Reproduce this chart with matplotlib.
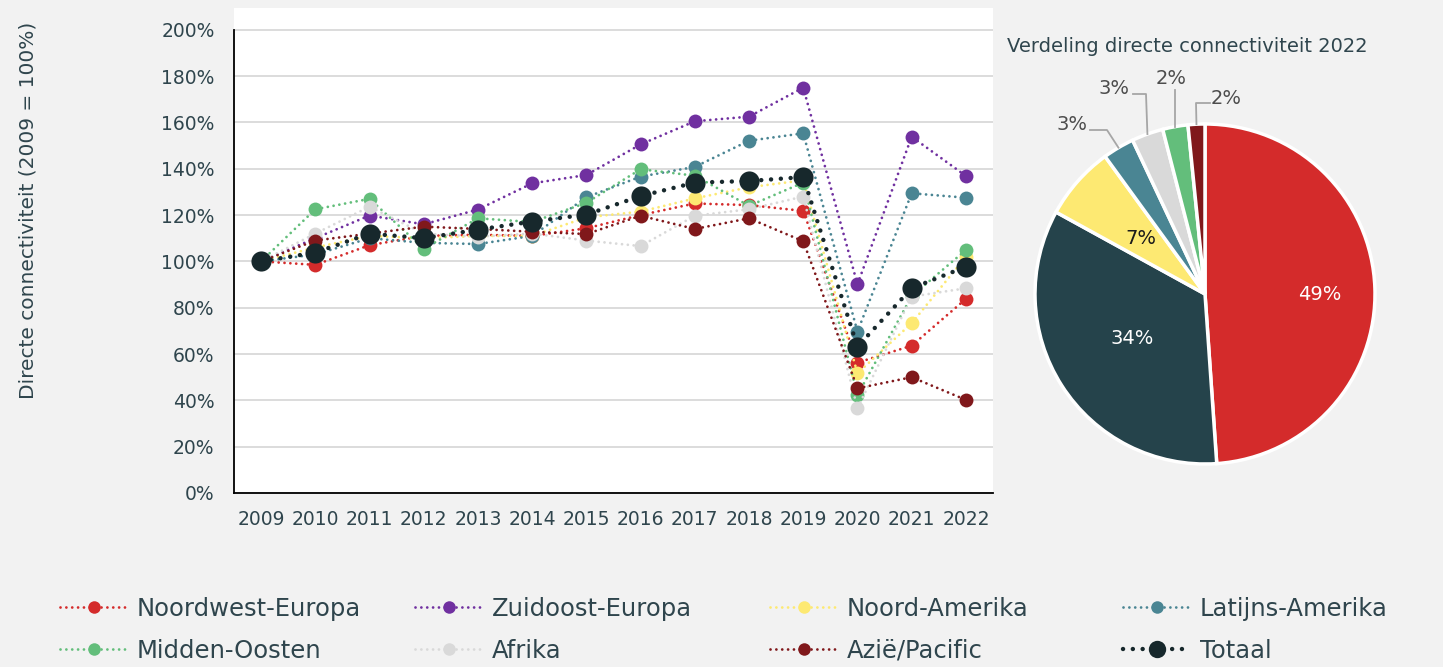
"""
Directe connectiviteit per regio (2009 = 100%) + verdeling 2022
"""

import matplotlib
matplotlib.use('Agg')
import matplotlib.pyplot as plt
from matplotlib.lines import Line2D
import numpy as np

plt.rcParams['font.family'] = ['DejaVu Sans']

# ---- data ----
years = [2009, 2010, 2011, 2012, 2013, 2014, 2015, 2016, 2017, 2018, 2019, 2020, 2021, 2022]

noordwest_europa = [100, 98.5, 107, 111, 111.5, 111, 114.3, 120, 125, 124.3, 121.8, 56.3, 63.6, 83.8]
zuidoost_europa = [100, 110, 119.8, 116, 122.4, 133.7, 137.3, 150.5, 160.5, 162.5, 175, 90.1, 153.8, 136.9]
noord_amerika = [100, 106, 111, 110, 111, 111, 119, 121.5, 127.2, 132, 135, 51.7, 73.3, 102]
latijns_amerika = [100, 103, 110, 108, 107.5, 111, 127.7, 136.6, 140.8, 152.1, 155.3, 69.7, 129.4, 127.5]
midden_oosten = [100, 122.5, 127, 105.5, 118.6, 117, 125.3, 139.8, 137, 124, 134, 42.3, 85, 104.9]
afrika = [100, 112, 123.6, 112, 110.7, 112, 109, 106.6, 119.7, 122.5, 128, 36.6, 84.8, 88.4]
azie_pacific = [100, 109, 112, 115, 114, 112.8, 111.8, 119.7, 114, 118.6, 108.7, 45.2, 50, 40.2]
totaal = [100, 103.8, 112, 110, 113.7, 117.2, 120.2, 128.2, 134, 134.7, 136.4, 63.2, 88.4, 97.7]

series_names = ['Noordwest-Europa', 'Zuidoost-Europa', 'Noord-Amerika', 'Latijns-Amerika',
                'Midden-Oosten', 'Afrika', 'Azië/Pacific', 'Totaal']
series_values = [noordwest_europa, zuidoost_europa, noord_amerika, latijns_amerika,
                 midden_oosten, afrika, azie_pacific, totaal]
series_colors = ['#D42B2B', '#7030A0', '#FDE972', '#4A8593',
                 '#63BE7B', '#D9D9D9', '#80181B', '#17282C']

y_ticks = [0, 20, 40, 60, 80, 100, 120, 140, 160, 180, 200]

pie_title = 'Verdeling directe connectiviteit 2022'
pie_values = [48.9, 34.1, 7.0, 3.0, 3.0, 2.4, 1.6]
pie_colors = ['#D42B2B', '#25434B', '#FDE972', '#4A8593', '#D9D9D9', '#63BE7B', '#80181B']

TEXT = '#2F454D'
W, H = 1443, 667


def px_box(x0, y0, x1, y1):
    """pixel rect -> figure fraction [left, bottom, width, height]"""
    return [x0 / W, 1 - y1 / H, (x1 - x0) / W, (y1 - y0) / H]


def line_style(name):
    # stippellijn, totaal met grotere stippen
    if name == 'Totaal':
        return dict(lw=3.2, linestyle=(0, (0.01, 2.2)), dash_capstyle='round')
    return dict(lw=2.0, linestyle=(0, (0.01, 2.1)), dash_capstyle='round')


fig = plt.figure(figsize=(W / 100, H / 100), dpi=100, facecolor='#F2F2F2')

# ---- lijngrafiek ----
ax = fig.add_axes(px_box(234, 8, 993, 493))
ax.set_facecolor('white')
x = np.arange(len(years))

for i, (name, vals, col) in enumerate(zip(series_names, series_values, series_colors)):
    ms = 14.5 if name == 'Totaal' else 10
    ax.plot(x, vals, color=col, marker='o', ms=ms, mew=0, zorder=3 + i, **line_style(name))

ax.set_xlim(-0.5, len(years) - 0.5)
ax.set_ylim(0, 209.4)
ax.set_xticks(x)
ax.set_xticklabels([str(y) for y in years])
ax.set_yticks(y_ticks)
ax.set_yticklabels([f'{v}%' for v in y_ticks])
ax.yaxis.grid(True, color='#D9D9D9', lw=1.3)
ax.set_axisbelow(True)
for s in ['top', 'right']:
    ax.spines[s].set_visible(False)
ax.spines['left'].set_bounds(0, 200)
ax.spines['left'].set_linewidth(1.3)
ax.spines['bottom'].set_linewidth(1.3)
ax.tick_params(axis='both', length=0, labelsize=13.5, colors=TEXT)
ax.tick_params(axis='y', pad=14)
ax.tick_params(axis='x', pad=12)

fig.text(28 / W, 1 - 210 / H, 'Directe connectiviteit (2009 = 100%)', rotation=90,
         ha='center', va='center', fontsize=14.5, color=TEXT)

# ---- taartdiagram ----
cx, cy, r = 1205, 294, 170
pax = fig.add_axes(px_box(cx - r, cy - r, cx + r, cy + r))
pax.pie(pie_values, colors=pie_colors, startangle=90, counterclock=False,
        wedgeprops=dict(edgecolor='white', linewidth=2.5))
pax.set_xlim(-1, 1)
pax.set_ylim(-1, 1)


def pie_xy(px, py):
    return ((px - cx) / r, (cy - py) / r)


fig.text((cx - 18) / W, 1 - 46 / H, pie_title, ha='center', va='center', fontsize=14, color=TEXT)

# labels in de taart
inner = {0: ((1320, 294), 'white'), 1: ((1132, 338), 'white'), 2: ((1141, 238), '#1A1A1A')}
for idx, ((px, py), col) in inner.items():
    pax.text(*pie_xy(px, py), f'{round(pie_values[idx])}%', ha='center', va='center',
             fontsize=14, color=col)

# labels buiten de taart met verbindingslijnen
cum = np.cumsum([0] + pie_values[:-1])
outer = {3: ((1072, 124), (1107, 130), (1090, 130)),
         4: ((1114, 88), (1146, 94), (1133, 94)),
         5: ((1171, 78), None, (None, 90)),
         6: ((1226, 98), (1196, 103), (1210, 103))}
for idx, (txt_pos, elbow, end) in outer.items():
    mid = cum[idx] + pie_values[idx] / 2
    ang = np.deg2rad(90 - 360 * mid / 100)
    ax_, ay_ = np.cos(ang), np.sin(ang)
    pts = [(ax_, ay_)]
    if elbow is not None:
        pts.append(pie_xy(*elbow))
        pts.append(pie_xy(*end))
    else:
        pts.append((ax_, pie_xy(cx, end[1])[1]))
    xs, ys = zip(*pts)
    pax.plot(xs, ys, color='#A6A6A6', lw=1.3, clip_on=False)
    pax.text(*pie_xy(*txt_pos), f'{round(pie_values[idx])}%', ha='center', va='center',
             fontsize=14, color='#4D4D4D')

# ---- legenda ----
handles = []
for name, col in zip(series_names, series_colors):
    ms = 12.5 if name == 'Totaal' else 9
    handles.append(Line2D([], [], color=col, marker='o', ms=ms, mew=0, **line_style(name)))

col_x = [60, 415, 770, 1123]
for c, xpos in enumerate(col_x):
    leg = fig.legend(handles=[handles[c], handles[c + 4]],
                     labels=[series_names[c], series_names[c + 4]],
                     loc='upper left', bbox_to_anchor=(xpos / W, 1 - 597 / H),
                     frameon=False, fontsize=17.5, handlelength=2.8, handletextpad=0.35,
                     labelspacing=0.72, borderpad=0, borderaxespad=0, numpoints=1)
    for t in leg.get_texts():
        t.set_color(TEXT)

plt.savefig('out.png', dpi=100, facecolor=fig.get_facecolor())
plt.close()
